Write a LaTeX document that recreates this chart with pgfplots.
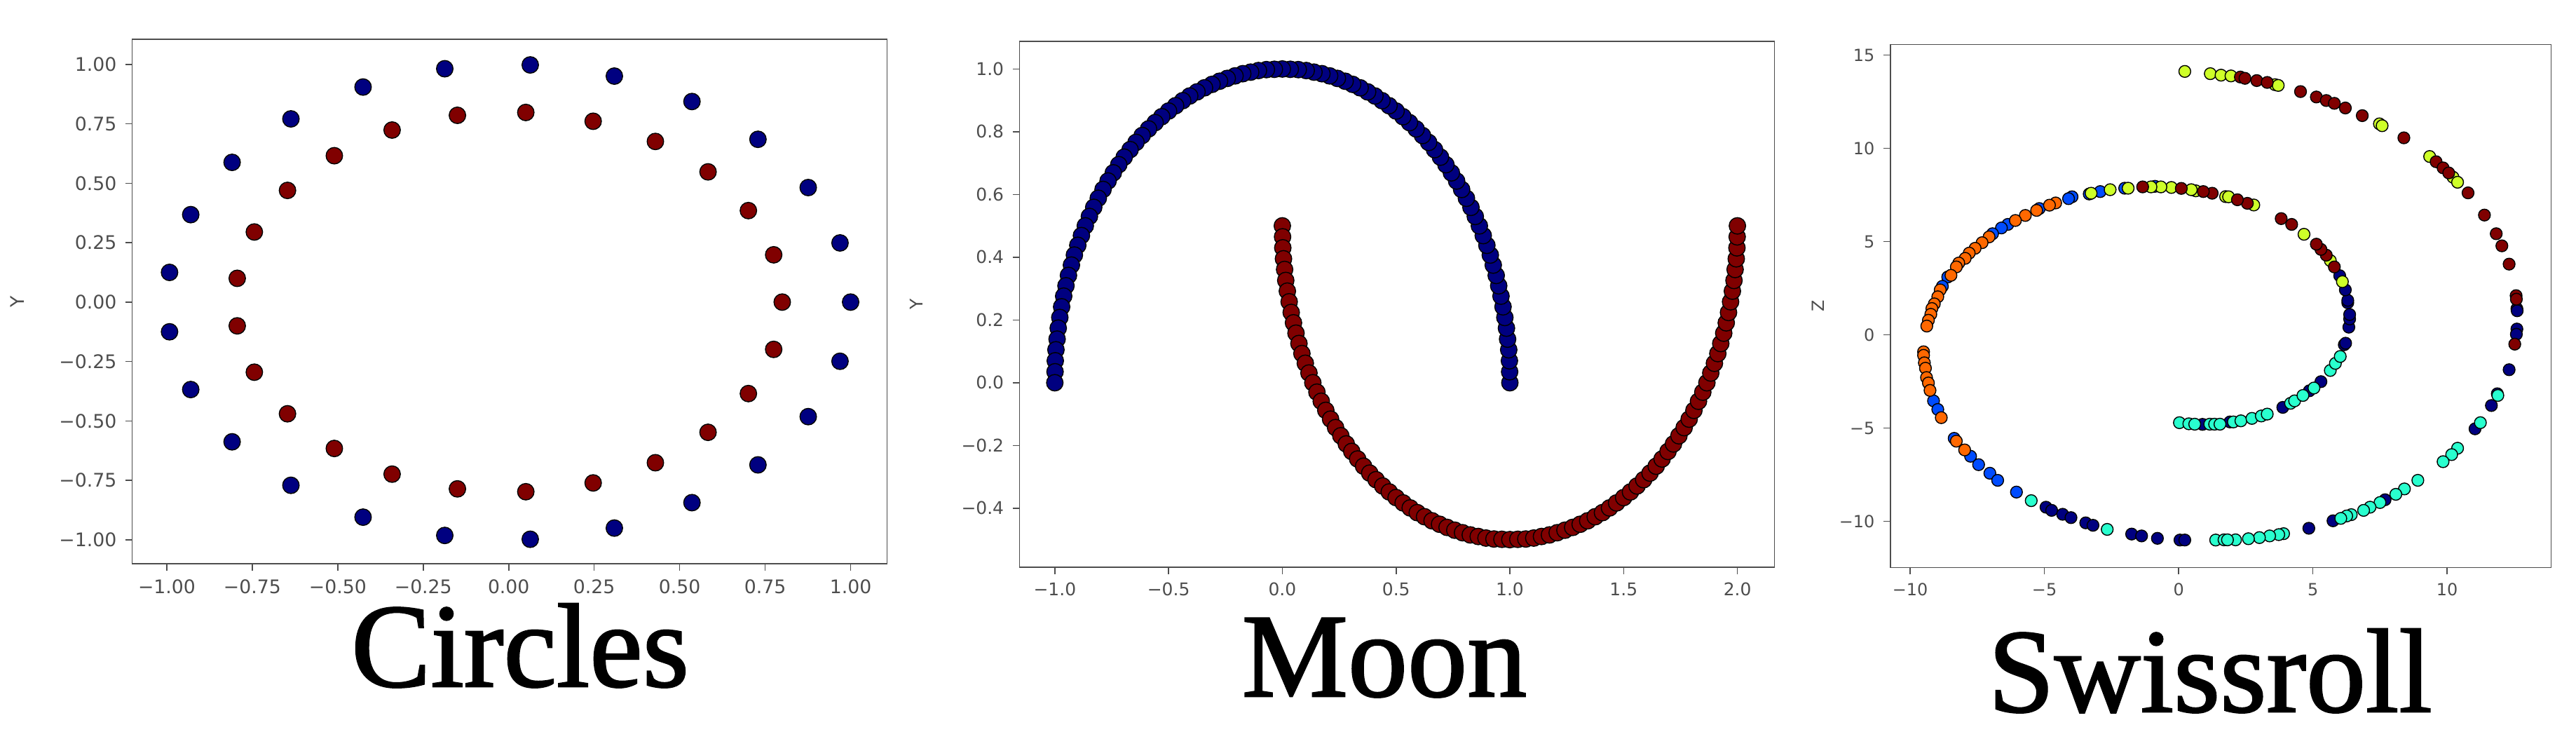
\documentclass[border=0pt]{standalone}
\usepackage{pgfplots}
\pgfplotsset{compat=1.18}
\usepackage{fontspec}
\newfontfamily\tickfont{DejaVu Sans}
\newfontfamily\titlefont[FakeBold=1.5]{Liberation Serif}

\definecolor{jnavy}{HTML}{000080}
\definecolor{jblue}{HTML}{004CFF}
\definecolor{jcyan}{HTML}{29FFCE}
\definecolor{jyell}{HTML}{CEFF29}
\definecolor{jorng}{HTML}{FF6800}
\definecolor{jred}{HTML}{800000}
\definecolor{spine}{HTML}{4D4D4D}

\pgfplotsset{
  panel/.style={
    scale only axis,
    anchor=south west,
    axis line style={spine, line width=0.45pt},
    tick style={spine, line width=0.45pt},
    tick align=outside,
    major tick length=0.1cm,
    xtick pos=bottom, ytick pos=left,
    ticklabel style={text=spine},
    ylabel style={text=spine, anchor=center},
  },
  dots/.style={only marks, mark=*, mark size=#1,
    mark options={draw=black, line width=0.45pt}},
}

\begin{document}
\begin{tikzpicture}
\useasboundingbox (0,0) rectangle (36.75,-10.53);

% ---------------- Circles
\begin{axis}[panel,
  at={(1.887cm,-8.04cm)}, width=10.77cm, height=7.48cm,
  xmin=-1.101, xmax=1.107, ymin=-1.101, ymax=1.106,
  xtick={-1,-0.75,-0.5,-0.25,0,0.25,0.5,0.75,1},
  xticklabels={−1.00,−0.75,−0.50,−0.25,0.00,0.25,0.50,0.75,1.00},
  ytick={-1,-0.75,-0.5,-0.25,0,0.25,0.5,0.75,1},
  yticklabels={−1.00,−0.75,−0.50,−0.25,0.00,0.25,0.50,0.75,1.00},
  ticklabel style={font=\tickfont\fontsize{7.6}{9}\selectfont},
  ylabel={Y},
  ylabel style={at={(rel axis cs:-0.152,0.5)}, font=\tickfont\fontsize{7.6}{9}\selectfont},
]
\addplot[dots=3.35pt, mark options={fill=jnavy}] coordinates {
(1.000,0.000) (0.969,0.249) (0.876,0.482) (0.729,0.685) (0.536,0.844)
(0.309,0.951) (0.063,0.998) (-0.187,0.982) (-0.426,0.905) (-0.637,0.771)
(-0.809,0.588) (-0.930,0.368) (-0.992,0.125) (-0.992,-0.125) (-0.930,-0.368)
(-0.809,-0.588) (-0.637,-0.771) (-0.426,-0.905) (-0.187,-0.982) (0.063,-0.998)
(0.309,-0.951) (0.536,-0.844) (0.729,-0.685) (0.876,-0.482) (0.969,-0.249)
};
\addplot[dots=3.35pt, mark options={fill=jred}] coordinates {
(0.800,0.000) (0.775,0.199) (0.701,0.385) (0.583,0.548) (0.429,0.676)
(0.247,0.761) (0.050,0.798) (-0.150,0.786) (-0.341,0.724) (-0.510,0.616)
(-0.647,0.470) (-0.744,0.295) (-0.794,0.100) (-0.794,-0.100) (-0.744,-0.295)
(-0.647,-0.470) (-0.510,-0.616) (-0.341,-0.724) (-0.150,-0.786) (0.050,-0.798)
(0.247,-0.761) (0.429,-0.676) (0.583,-0.548) (0.701,-0.385) (0.775,-0.199)
};
\end{axis}

% ---------------- Moon
\begin{axis}[panel,
  at={(14.545cm,-8.09cm)}, width=10.77cm, height=7.50cm,
  xmin=-1.155, xmax=2.163, ymin=-0.588, ymax=1.088,
  xtick={-1,-0.5,0,0.5,1,1.5,2},
  xticklabels={−1.0,−0.5,0.0,0.5,1.0,1.5,2.0},
  ytick={-0.4,-0.2,0,0.2,0.4,0.6,0.8,1},
  yticklabels={−0.4,−0.2,0.0,0.2,0.4,0.6,0.8,1.0},
  ticklabel style={font=\tickfont\fontsize{7.1}{9}\selectfont},
  ylabel={Y},
  ylabel style={at={(rel axis cs:-0.137,0.5)}, font=\tickfont\fontsize{7.1}{9}\selectfont},
]
\addplot[dots=3.35pt, mark options={fill=jnavy}] coordinates {
(1.000,0.000) (0.999,0.035) (0.998,0.070) (0.995,0.105) (0.990,0.139)
(0.985,0.174) (0.978,0.208) (0.970,0.242) (0.961,0.276) (0.951,0.309)
(0.940,0.342) (0.927,0.375) (0.914,0.407) (0.899,0.438) (0.883,0.469)
(0.866,0.500) (0.848,0.530) (0.829,0.559) (0.809,0.588) (0.788,0.616)
(0.766,0.643) (0.743,0.669) (0.719,0.695) (0.695,0.719) (0.669,0.743)
(0.643,0.766) (0.616,0.788) (0.588,0.809) (0.559,0.829) (0.530,0.848)
(0.500,0.866) (0.469,0.883) (0.438,0.899) (0.407,0.914) (0.375,0.927)
(0.342,0.940) (0.309,0.951) (0.276,0.961) (0.242,0.970) (0.208,0.978)
(0.174,0.985) (0.139,0.990) (0.105,0.995) (0.070,0.998) (0.035,0.999)
(0.000,1.000)
(-0.035,0.999) (-0.070,0.998) (-0.105,0.995) (-0.139,0.990) (-0.174,0.985)
(-0.208,0.978) (-0.242,0.970) (-0.276,0.961) (-0.309,0.951) (-0.342,0.940)
(-0.375,0.927) (-0.407,0.914) (-0.438,0.899) (-0.469,0.883) (-0.500,0.866)
(-0.530,0.848) (-0.559,0.829) (-0.588,0.809) (-0.616,0.788) (-0.643,0.766)
(-0.669,0.743) (-0.695,0.719) (-0.719,0.695) (-0.743,0.669) (-0.766,0.643)
(-0.788,0.616) (-0.809,0.588) (-0.829,0.559) (-0.848,0.530) (-0.866,0.500)
(-0.883,0.469) (-0.899,0.438) (-0.914,0.407) (-0.927,0.375) (-0.940,0.342)
(-0.951,0.309) (-0.961,0.276) (-0.970,0.242) (-0.978,0.208) (-0.985,0.174)
(-0.990,0.139) (-0.995,0.105) (-0.998,0.070) (-0.999,0.035) (-1.000,0.000)
};
\addplot[dots=3.35pt, mark options={fill=jred}] coordinates {
(0.000,0.500) (0.001,0.465) (0.002,0.430) (0.005,0.395) (0.010,0.361)
(0.015,0.326) (0.022,0.292) (0.030,0.258) (0.039,0.224) (0.049,0.191)
(0.060,0.158) (0.073,0.125) (0.086,0.093) (0.101,0.062) (0.117,0.031)
(0.134,0.000) (0.152,-0.030) (0.171,-0.059) (0.191,-0.088) (0.212,-0.116)
(0.234,-0.143) (0.257,-0.169) (0.281,-0.195) (0.305,-0.219) (0.331,-0.243)
(0.357,-0.266) (0.384,-0.288) (0.412,-0.309) (0.441,-0.329) (0.470,-0.348)
(0.500,-0.366) (0.531,-0.383) (0.562,-0.399) (0.593,-0.414) (0.625,-0.427)
(0.658,-0.440) (0.691,-0.451) (0.724,-0.461) (0.758,-0.470) (0.792,-0.478)
(0.826,-0.485) (0.861,-0.490) (0.895,-0.495) (0.930,-0.498) (0.965,-0.499)
(1.000,-0.500)
(1.035,-0.499) (1.070,-0.498) (1.105,-0.495) (1.139,-0.490) (1.174,-0.485)
(1.208,-0.478) (1.242,-0.470) (1.276,-0.461) (1.309,-0.451) (1.342,-0.440)
(1.375,-0.427) (1.407,-0.414) (1.438,-0.399) (1.469,-0.383) (1.500,-0.366)
(1.530,-0.348) (1.559,-0.329) (1.588,-0.309) (1.616,-0.288) (1.643,-0.266)
(1.669,-0.243) (1.695,-0.219) (1.719,-0.195) (1.743,-0.169) (1.766,-0.143)
(1.788,-0.116) (1.809,-0.088) (1.829,-0.059) (1.848,-0.030) (1.866,0.000)
(1.883,0.031) (1.899,0.062) (1.914,0.093) (1.927,0.125) (1.940,0.158)
(1.951,0.191) (1.961,0.224) (1.970,0.258) (1.978,0.292) (1.985,0.326)
(1.990,0.361) (1.995,0.395) (1.998,0.430) (1.999,0.465) (2.000,0.500)
};
\end{axis}

% ---------------- Swissroll
\begin{axis}[panel,
  at={(26.967cm,-8.093cm)}, width=9.426cm, height=7.46cm,
  xmin=-10.74, xmax=13.87, ymin=-12.47, ymax=15.57,
  xtick={-10,-5,0,5,10},
  xticklabels={−10,−5,0,5,10},
  ytick={-10,-5,0,5,10,15},
  yticklabels={−10,−5,0,5,10,15},
  ticklabel style={font=\tickfont\fontsize{6.8}{8}\selectfont},
  ylabel={Z},
  ylabel style={at={(rel axis cs:-0.109,0.5)}, font=\tickfont\fontsize{6.8}{8}\selectfont},
]
\addplot[dots=2.4pt, mark options={fill=jnavy, line width=0.4pt}] coordinates {
(-4.94,-9.24) (-4.73,-9.41) (-4.32,-9.62) (-4.01,-9.80) (-3.46,-10.08)
(-3.19,-10.21) (-1.75,-10.68) (-1.38,-10.78) (-0.79,-10.91) (0.05,-11.00)
(0.23,-11.00) (0.89,-4.80) (1.91,-4.67) (3.88,-3.89) (4.87,-3.00)
(5.30,-2.51) (6.17,-0.53) (6.22,-0.45) (6.34,0.41) (6.37,0.85)
(6.37,1.09) (6.30,1.72) (6.30,1.85) (6.21,2.41) (6.00,3.17)
(12.60,1.40) (12.61,1.29) (12.60,0.31) (12.58,0.03) (12.31,-1.87)
(11.87,-3.16) (11.65,-3.79) (11.04,-5.04) (7.69,-8.84) (5.75,-9.97)
(4.85,-10.37)
};
\addplot[dots=2.4pt, mark options={fill=jblue, line width=0.4pt}] coordinates {
(-0.88,7.96) (-2.01,7.86) (-2.92,7.68) (-3.33,7.55) (-3.97,7.40)
(-4.10,7.30) (-5.19,6.77) (-6.36,5.92) (-6.60,5.73) (-6.93,5.42)
(-8.60,3.10) (-8.80,2.60) (-9.13,-3.54) (-8.97,-4.00) (-8.36,-5.55)
(-7.75,-6.51) (-7.45,-6.96) (-7.03,-7.42) (-6.74,-7.80) (-6.04,-8.43)
};
\addplot[dots=2.4pt, mark options={fill=jcyan, line width=0.4pt}] coordinates {
(-5.49,-8.89) (-2.66,-10.43) (1.38,-11.00) (1.69,-10.99) (0.03,-4.71)
(0.38,-4.77) (0.60,-4.79) (1.16,-4.79) (1.34,-4.79) (1.54,-4.79)
(2.04,-4.67) (2.32,-4.61) (2.73,-4.48) (3.08,-4.35) (3.30,-4.25)
(4.17,-3.67) (4.32,-3.54) (4.63,-3.25) (5.04,-2.85) (5.65,-1.91)
(5.84,-1.53) (6.02,-1.16) (11.89,-3.25) (11.24,-4.71) (10.39,-6.08)
(10.17,-6.42) (9.85,-6.80) (8.91,-7.80) (8.41,-8.26) (8.09,-8.55)
(7.50,-8.99) (7.13,-9.24) (6.89,-9.41) (6.43,-9.64) (6.26,-9.71)
(6.04,-9.84) (3.91,-10.66) (3.73,-10.71) (3.39,-10.78) (3.01,-10.87)
(2.60,-10.93) (2.12,-10.99) (1.82,-10.99)
};
\addplot[dots=2.4pt, mark options={fill=jyell, line width=0.4pt}] coordinates {
(0.23,14.12) (1.18,14.00) (1.58,13.92) (1.95,13.88) (3.59,13.41)
(3.71,13.37) (7.48,11.31) (7.58,11.21) (9.35,9.56) (10.22,8.45)
(10.39,8.18) (1.75,7.41) (1.86,7.40) (2.80,6.96) (4.67,5.39)
(5.65,3.98) (6.10,2.85) (0.64,7.72) (0.47,7.78) (-0.27,7.90)
(-0.66,7.93) (-1.03,7.93) (-1.88,7.86) (-2.55,7.78) (-3.26,7.59)
};
\addplot[dots=2.4pt, mark options={fill=jorng, line width=0.4pt}] coordinates {
(-4.58,7.07) (-4.81,6.95) (-5.29,6.67) (-5.71,6.40) (-6.08,6.13)
(-7.06,5.25) (-7.32,4.94) (-7.58,4.64) (-7.80,4.38) (-7.95,4.10)
(-8.19,3.85) (-8.28,3.64) (-8.48,3.19) (-8.88,2.41) (-8.97,2.04)
(-9.10,1.66) (-9.19,1.41) (-9.23,1.10) (-9.32,0.78) (-9.38,0.47)
(-9.50,-0.91) (-9.50,-1.10) (-9.47,-1.50) (-9.43,-1.79) (-9.39,-2.29)
(-9.32,-2.58) (-9.26,-2.98) (-8.84,-4.44) (-8.28,-5.70) (-7.97,-6.17)
};
\addplot[dots=2.4pt, mark options={fill=jred, line width=0.4pt}] coordinates {
(1.25,7.59) (0.92,7.68) (0.10,7.85) (-1.34,7.93) (5.80,3.64)
(5.50,4.27) (5.30,4.58) (5.13,4.86) (4.21,5.92) (3.82,6.23)
(2.56,7.05) (2.19,7.24)
(2.30,13.82) (2.47,13.75) (2.91,13.63) (3.30,13.53) (4.54,13.04)
(5.13,12.75) (5.50,12.56) (5.80,12.41) (6.21,12.16) (6.84,11.75)
(8.39,10.56) (9.59,9.28) (9.85,8.95) (10.06,8.68) (10.78,7.61)
(11.39,6.42) (11.83,5.42) (12.04,4.77) (12.31,3.79) (12.57,2.10)
(12.58,1.91) (12.52,-0.50)
};
\end{axis}

% ---------------- panel names
\node[anchor=base, font=\titlefont\fontsize{48.4}{52}\selectfont, inner sep=0pt] at (7.42,-9.79) {Circles};
\node[anchor=base, font=\titlefont\fontsize{48.4}{52}\selectfont, inner sep=0pt] at (19.75,-9.93) {Moon};
\node[anchor=base, font=\titlefont\fontsize{48.4}{52}\selectfont, inner sep=0pt] at (31.53,-10.15) {Swissroll};
\end{tikzpicture}
\end{document}
